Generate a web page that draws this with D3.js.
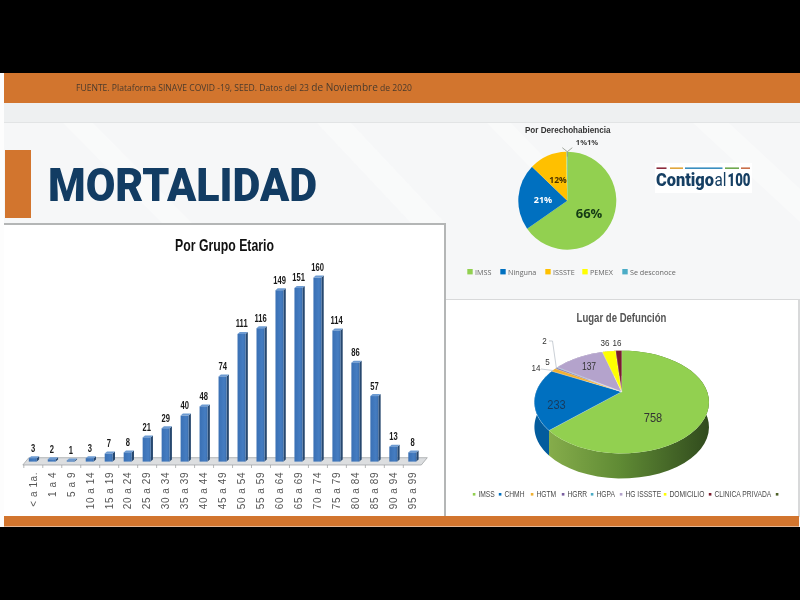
<!DOCTYPE html>
<html><head><meta charset="utf-8">
<script src="https://cdn.jsdelivr.net/npm/d3@7/dist/d3.min.js"></script>
<style>html,body{margin:0;padding:0;background:#000;overflow:hidden}svg{display:block;filter:blur(.35px)}</style>
</head><body><svg id="c" width="800" height="600"></svg>
<script>
// ---- data ----
const ageGroups = ["< a 1a.","1 a 4","5 a 9","10 a 14","15 a 19","20 a 24","25 a 29","30 a 34","35 a 39","40 a 44","45 a 49","50 a 54","55 a 59","60 a 64","65 a 69","70 a 74","75 a 79","80 a 84","85 a 89","90 a 94","95 a 99"];
const ageDeaths = [3,2,1,3,7,8,21,29,40,48,74,111,116,149,151,160,114,86,57,13,8];
const coverageNames = ["IMSS","Ninguna","ISSSTE","PEMEX","Se desconoce"];
const coverageShares = [65.3,21.9,12.4,0.2,0.2];
const coverageLabels = ["66%","21%","12%","1%","1%"];
const placeNames = ["IMSS","CHMH","HGTM","HGRR","HGPA","HG ISSSTE","DOMICILIO","CLINICA PRIVADA",""];
const placeDeaths = [758,233,14,5,2,137,36,16,0];

// ---- styles and layout ----
const NARROW = "'Liberation Sans',sans-serif";
const SANS = "'Open Sans',sans-serif";
const ORANGE = "#d2752e";
const coverageColors = ["#92d050","#0070c0","#ffc000","#ffff00","#4bacc6"];
const coverageLegendX = [470,503,548,585,625];
const placeColors = ["#92d050","#0070c0","#f0b030","#7a5fa0","#4bacc6","#b4a3cc","#ffff00","#7b1c2e","#4f6228"];
const placeLegendX = [474,500,532,563,592,621,665,710,777];
const placeLabelPos = [[653,417],[556.5,404],[536,367],[547.5,361.5],[544.5,340.5],[589,366.5],[605,342],[617,342]];

const svg = d3.select("#c");
const rect = (x,y,w,h,f) => svg.append("rect").attr("x",x).attr("y",y).attr("width",w).attr("height",h).attr("fill",f);
const txt = (g,x,y,s,size,fill,font,weight,anchor) => g.append("text").attr("x",x).attr("y",y).text(s)
  .attr("font-size",size).attr("fill",fill).attr("font-family",font).attr("font-weight",weight||400)
  .attr("text-anchor",anchor||"middle").attr("dominant-baseline","central");
// horizontally condense a text so it reads like the reference's narrow face
const squeeze = (sel,k) => sel.each(function(){
  const w=this.getComputedTextLength();
  d3.select(this).attr("textLength",w*k).attr("lengthAdjust","spacingAndGlyphs");
});

// ---- slide ----
rect(0,0,800,600,"#000");
rect(0,73,800,454,"#f6f7f8");
rect(0,73,4,454,"#fdfdfd");
rect(4,103,796,19,"#eef0f1");
rect(4,122,796,1,"#e2e4e5");
[[63,123,163,224,30],[317,123,412,224,34],[487,123,552,190,24],[693,123,800,222,36]].forEach(d=>{
  svg.append("polygon").attr("points",`${d[0]},${d[1]} ${d[0]+d[4]},${d[1]} ${d[2]+d[4]},${d[3]} ${d[2]},${d[3]}`).attr("fill","#fff").attr("opacity",.35);
});
rect(4,73,796,30,ORANGE);
const src = txt(svg,76,87.3,"FUENTE. Plataforma SINAVE COVID -19, SEED. Datos del 23 ",8.5,"#4a3a2c",SANS,400,"start");
src.append("tspan").attr("font-size",10).text("de Noviembre");
src.append("tspan").text(" de 2020");
src.attr("textLength",336).attr("lengthAdjust","spacingAndGlyphs");
rect(5,150,26,68,ORANGE);
txt(svg,48,184.5,"MORTALIDAD",47,"#123c63","Roboto",900,"start").attr("textLength",269).attr("lengthAdjust","spacingAndGlyphs");

// panels
rect(4,223,442,294,"#b4b6b6");
rect(4,225,440,291,"#fff");
rect(446,299,354,218,"#d8d9da");
rect(446,300,352,217,"#fff");
rect(4,516,795,10.5,ORANGE);

// ---- logo ----
rect(655,163,97,30,"#fff");
[[656.5,666.5,"#8c2b3c"],[670,683,"#e0a63c"],[685,722.5,"#3b8fc0"],[725,739,"#6fa84f"],[741,750,"#c96f4a"]].forEach(d=>rect(d[0],167.4,d[1]-d[0],1.6,d[2]));
txt(svg,656,179.5,"Contigo",17.5,"#163f63","Roboto",900,"start").attr("textLength",58).attr("lengthAdjust","spacingAndGlyphs");
txt(svg,714.5,179.5,"al",17.5,"#163f63","Roboto",400,"start").attr("textLength",12).attr("lengthAdjust","spacingAndGlyphs");
txt(svg,727.5,179.5,"100",17.5,"#163f63","Roboto",900,"start").attr("textLength",23).attr("lengthAdjust","spacingAndGlyphs");

// ---- bar chart ----
const defs = svg.append("defs");
const bg = defs.append("linearGradient").attr("id","barFront");
bg.append("stop").attr("offset",0).attr("stop-color","#3a70b4");
bg.append("stop").attr("offset",.7).attr("stop-color","#457dc2");
bg.append("stop").attr("offset",1).attr("stop-color","#3a6eae");
const x = d3.scalePoint().domain(ageGroups).range([32.8,412.3]);
const y = d3.scaleLinear().domain([0,160]).range([461.6,277.6]);
const barW = 8, sideW = 2.3, lift = 2;
const step = x.step();
squeeze(txt(svg,224.5,245,"Por Grupo Etario",16.6,"#111",NARROW,700),.74);
const floor = svg.append("g");
floor.append("polygon").attr("points",`${x(ageGroups[0])-step/2-.5},465 ${x(ageGroups[0])-step/2+5.5},457.7 ${x(ageGroups[20])+step/2+5.5},457.7 ${x(ageGroups[20])+step/2-.5},465`)
  .attr("fill","#dcdee0").attr("stroke","#9a9c9e").attr("stroke-width",.7);
const xAxis = d3.axisBottom(x).tickSize(3).tickPadding(3);
const ax = svg.append("g").attr("transform","translate(0,465)").call(xAxis);
ax.select(".domain").remove();
ax.selectAll("line").attr("stroke","#9a9c9e").attr("stroke-width",.7).attr("transform",`translate(${-step/2},0)`);
ax.selectAll("text").attr("transform","rotate(-90)").attr("text-anchor","end").attr("x",-7).attr("y",0).attr("dy","0.33em")
  .attr("font-size",10).attr("letter-spacing",".55").attr("fill","#555").attr("font-family","'Liberation Sans',sans-serif");
const bars = svg.append("g").selectAll("g").data(ageGroups).join("g");
bars.append("polygon").attr("points",(d,i)=>{
  const l=x(d)+barW/2, t=y(ageDeaths[i]);
  return `${l},${t} ${l+sideW},${t-lift} ${l+sideW},${y(0)-lift} ${l},${y(0)}`;
}).attr("fill","#27486f");
bars.append("polygon").attr("points",(d,i)=>{
  const l=x(d)-barW/2, t=y(ageDeaths[i]);
  return `${l},${t} ${l+sideW},${t-lift} ${l+barW+sideW},${t-lift} ${l+barW},${t}`;
}).attr("fill","#6d9bd2");
bars.append("rect").attr("x",d=>x(d)-barW/2).attr("width",barW)
  .attr("y",(d,i)=>y(ageDeaths[i])).attr("height",(d,i)=>y(0)-y(ageDeaths[i])).attr("fill","url(#barFront)");
const barLabels = bars.append("text").attr("x",d=>x(d)+.2).attr("y",(d,i)=>y(ageDeaths[i])-10).text((d,i)=>ageDeaths[i])
  .attr("text-anchor","middle").attr("dominant-baseline","central").attr("font-size",10)
  .attr("font-family",NARROW).attr("font-weight",700).attr("fill","#1a1a1a");
squeeze(barLabels,.76);

// ---- coverage pie ----
const pieGen = d3.pie().sort(null);
const pc = {x:567.3,y:200.7,r:49};
const g1 = svg.append("g").attr("transform",`translate(${pc.x},${pc.y})`);
const arc1 = d3.arc().innerRadius(0).outerRadius(pc.r);
g1.selectAll("path").data(pieGen(coverageShares)).join("path").attr("d",arc1).attr("fill",(d,i)=>coverageColors[i]);
g1.append("path").attr("d",`M${-5},${-53} L0,${-49} L5,${-53} M0,-49 L0,-44`).attr("fill","none").attr("stroke","#8d9488").attr("stroke-width",.8);
squeeze(txt(svg,567.7,129.6,"Por Derechohabiencia",9,"#333","'Liberation Sans',sans-serif",700),.9);
txt(svg,589,213,coverageLabels[0],13,"#143a14",SANS,700);
txt(svg,543,199,coverageLabels[1],9,"#fff",SANS,700);
txt(svg,558,179,coverageLabels[2],8.5,"#4a3200",SANS,700);
txt(svg,587,142,coverageLabels[3]+coverageLabels[4],7.6,"#444",SANS,700);
coverageNames.forEach((n,i)=>{
  rect(coverageLegendX[i]-2.7,269,5.4,5.4,coverageColors[i]);
  txt(svg,coverageLegendX[i]+5,271.8,n,7.2,"#666",SANS,400,"start");
});

// ---- place pie, perspective disc ----
const P = {x:621.7,y:391.7,a:49.3,b:85.5,p:.2013,depth:25};
const project = (ang,rho=1)=>{
  const u=Math.sin(ang)*rho, v=Math.cos(ang)*rho, w=1+P.p*v;
  return [P.x+P.b*u/w, P.y-P.a*v/w];
};
const placeArcs = pieGen(placeDeaths);
const sample = (a0,a1)=>d3.range(0,41).map(i=>project(a0+(a1-a0)*i/40));
const line = d3.line();
const sg = defs.append("linearGradient").attr("id","greenSide").attr("gradientUnits","userSpaceOnUse")
  .attr("x1",548).attr("x2",710).attr("y1",0).attr("y2",0);
sg.append("stop").attr("offset",0).attr("stop-color","#86ad4b");
sg.append("stop").attr("offset",.45).attr("stop-color","#5f8a34");
sg.append("stop").attr("offset",1).attr("stop-color","#304a1d");
const g2 = svg.append("g");
const wallColor = ["url(#greenSide)","#035c9d","#b98a20","#5d4880","#35818f","#8a7a9e","#b8b800","#5a1220"];
placeArcs.slice(0,8).slice().reverse().forEach(d=>{
  const i=d.index, top=sample(d.startAngle,d.endAngle);
  const low=top.slice().reverse().map(p=>[p[0],p[1]+P.depth]);
  g2.append("path").attr("d",line(top.concat(low))+"Z").attr("fill",wallColor[i]);
});
placeArcs.slice(0,8).forEach(d=>{
  const i=d.index;
  g2.append("path").attr("d",line([[P.x,P.y]].concat(sample(d.startAngle,d.endAngle)))+"Z")
    .attr("fill",placeColors[i]).attr("stroke","#fff").attr("stroke-width",i===0?0:.25);
});
squeeze(txt(svg,621.5,317.5,"Lugar de Defunción",12.6,"#555",NARROW,700),.76);
placeDeaths.slice(0,8).forEach((v,i)=>{
  squeeze(txt(svg,placeLabelPos[i][0],placeLabelPos[i][1],v,i<2?13:(i===5?10:9.5),i===1?"#173a5c":"#333",NARROW,400),.85);
});
svg.append("path").attr("d","M549,341 L552.5,341 L556.5,369 M541,369 L553,370.5").attr("fill","none").attr("stroke","#b5bcc4").attr("stroke-width",.7);
placeNames.forEach((n,i)=>{
  rect(placeLegendX[i]-1.2,493,2.6,2.6,placeColors[i]);
  if(n) squeeze(txt(svg,placeLegendX[i]+4.4,494.4,n,8.4,"#4a4a4a",NARROW,400,"start"),.8);
});
</script></body></html>
